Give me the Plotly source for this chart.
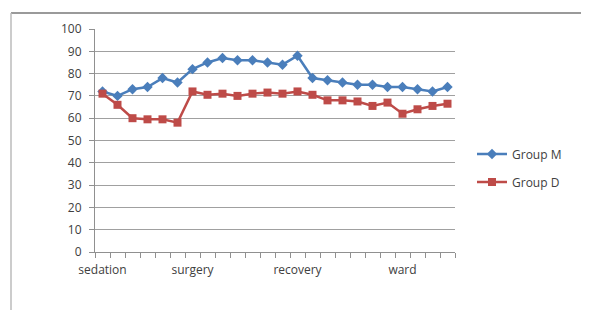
import plotly.graph_objects as go

# ---- data ----
categories = list(range(24))
tick_positions = [0, 6, 13, 20]
tick_labels = ["sedation", "surgery", "recovery", "ward"]
group_m = [72, 70, 73, 74, 78, 76, 82, 85, 87, 86, 86, 85, 84, 88,
           78, 77, 76, 75, 75, 74, 74, 73, 72, 74]
group_d = [71, 66, 60, 59.5, 59.5, 58, 72, 70.5, 71, 70, 71, 71.5, 71, 72,
           70.5, 68, 68, 67.5, 65.5, 67, 62, 64, 65.5, 66.5]
y_ticks = list(range(0, 101, 10))

# page offset from default body margin
OFF = 8
W, H = 589 - OFF, 310 - OFF
L, R, T, B = 95 - OFF, 455 - OFF, 29 - OFF, 252 - OFF

def px_x(p):  # page px -> paper
    return (p - OFF - L) / (R - L)

def px_y(p):
    return (B - (p - OFF)) / (B - T)

fig = go.Figure()
fig.add_trace(go.Scatter(
    x=categories, y=group_m, name="Group M", mode="lines+markers",
    line=dict(color="#4A7EBB", width=2.5),
    marker=dict(symbol="diamond", size=8, color="#4A7EBB"),
    legendgroup="m"))
fig.add_trace(go.Scatter(
    x=categories, y=group_d, name="Group D", mode="lines+markers",
    line=dict(color="#BE4B48", width=2.5),
    marker=dict(symbol="square", size=8, color="#BE4B48"),
    legendgroup="d"))

font_fam = "Open Sans, Liberation Sans, sans-serif"
fig.update_layout(
    width=W, height=H,
    margin=dict(l=L, r=W - R, t=T, b=H - B, autoexpand=False),
    paper_bgcolor="white", plot_bgcolor="white",
    font=dict(family=font_fam, size=12, color="#404040"),
    showlegend=True,
    legend=dict(x=px_x(472), xanchor="left", y=px_y(168), yanchor="middle",
                traceorder="grouped", tracegroupgap=9,
                font=dict(size=12, color="#404040"),
                bgcolor="rgba(0,0,0,0)", itemwidth=30),
    xaxis=dict(range=[-0.5, 23.5], tickmode="array", tickvals=tick_positions,
               ticktext=tick_labels, ticks="", showgrid=False, zeroline=False,
               showline=True, linecolor="#909090", linewidth=1,
               minor=dict(tickmode="linear", tick0=-0.5, dtick=1, ticks="outside",
                          ticklen=5, tickcolor="#909090", showgrid=False),
               tickfont=dict(size=12), ticklabelstandoff=7, fixedrange=True),
    yaxis=dict(range=[0, 100], tickmode="array", tickvals=y_ticks,
               ticks="outside", ticklen=5, tickcolor="#909090",
               showgrid=True, gridcolor="#A0A0A0", gridwidth=1,
               zeroline=False, showline=True, linecolor="#909090", linewidth=1,
               tickfont=dict(size=12), ticklabelstandoff=5, fixedrange=True),
    shapes=[
        dict(type="line", xref="paper", yref="paper",
             x0=px_x(11), x1=px_x(620), y0=px_y(13), y1=px_y(13),
             line=dict(color="#9A9A9A", width=2)),
        dict(type="line", xref="paper", yref="paper",
             x0=px_x(11), x1=px_x(11), y0=px_y(13), y1=px_y(330),
             line=dict(color="#BBBBBB", width=1.5)),
    ],
)

fig.write_html("out.html")
